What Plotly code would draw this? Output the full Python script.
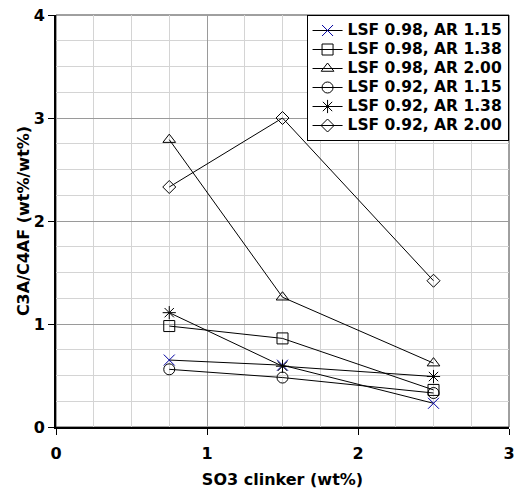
import plotly.graph_objects as go

so3 = [0.75, 1.5, 2.5]
names = ["LSF 0.98, AR 1.15", "LSF 0.98, AR 1.38", "LSF 0.98, AR 2.00",
         "LSF 0.92, AR 1.15", "LSF 0.92, AR 1.38", "LSF 0.92, AR 2.00"]
lsf098_ar115 = [0.65, 0.60, 0.23]
lsf098_ar138 = [0.98, 0.86, 0.36]
lsf098_ar200 = [2.79, 1.26, 0.62]
lsf092_ar115 = [0.56, 0.48, 0.33]
lsf092_ar138 = [1.11, 0.59, 0.49]
lsf092_ar200 = [2.33, 3.00, 1.42]

series = [lsf098_ar115, lsf098_ar138, lsf098_ar200, lsf092_ar115, lsf092_ar138, lsf092_ar200]
symbols = ["x-thin-open", "square-open", "triangle-up-open", "circle-open", "asterisk-open", "diamond-open"]
mcolors = ["#0000a0", "black", "black", "black", "black", "black"]
sizes = [11, 11, 11, 11, 11, 10]

fig = go.Figure()
for n, ys, s, c, sz in zip(names, series, symbols, mcolors, sizes):
    fig.add_trace(go.Scatter(
        x=so3, y=ys, name=f"<span style='font-size:15.5px'>{n}</span>",
        mode="lines+markers",
        line=dict(color="black", width=1),
        marker=dict(symbol=s, size=sz, color=c, line=dict(color=c, width=1)),
    ))

font = "DejaVu Sans"
fig.update_layout(
    width=516, height=489,
    margin=dict(l=56, r=7, t=15, b=62, autoexpand=False),
    paper_bgcolor="white", plot_bgcolor="white",
    font=dict(family=font, size=16, color="black"),
    showlegend=True,
    legend=dict(x=0.999, y=1.0, xanchor="right", yanchor="top",
                bgcolor="white", bordercolor="black", borderwidth=1,
                font=dict(family=font, size=11, color="black", weight="bold"),
                tracegroupgap=0, itemwidth=30),
    xaxis=dict(range=[0, 3], dtick=1, tick0=0, automargin=False,
               showgrid=True, gridcolor="#9a9a9a", gridwidth=1,
               minor=dict(dtick=0.25, showgrid=True, gridcolor="#d4d4d4", gridwidth=1),
               showline=True, linecolor="black", linewidth=2, mirror=False,
               ticks="outside", ticklen=6, tickcolor="black", ticklabelstandoff=5,
               tickfont=dict(family=font, size=16, weight="bold"),
               title=dict(text="SO3 clinker (wt%)", font=dict(family=font, size=16, weight="bold"), standoff=12),
               zeroline=False),
    yaxis=dict(range=[0, 4], dtick=1, tick0=0, automargin=False,
               showgrid=True, gridcolor="#9a9a9a", gridwidth=1,
               minor=dict(dtick=0.25, showgrid=True, gridcolor="#d4d4d4", gridwidth=1),
               showline=True, linecolor="black", linewidth=2, mirror=False,
               ticks="outside", ticklen=6, tickcolor="black",
               tickfont=dict(family=font, size=16, weight="bold"),
               title=dict(text="C3A/C4AF (wt%/wt%)", font=dict(family=font, size=16, weight="bold"), standoff=0),
               zeroline=False),
)
fig.add_shape(type="rect", xref="paper", yref="paper", x0=0, y0=0, x1=1, y1=1,
              line=dict(color="#404040", width=1), layer="below")
fig.write_html("out.html")
